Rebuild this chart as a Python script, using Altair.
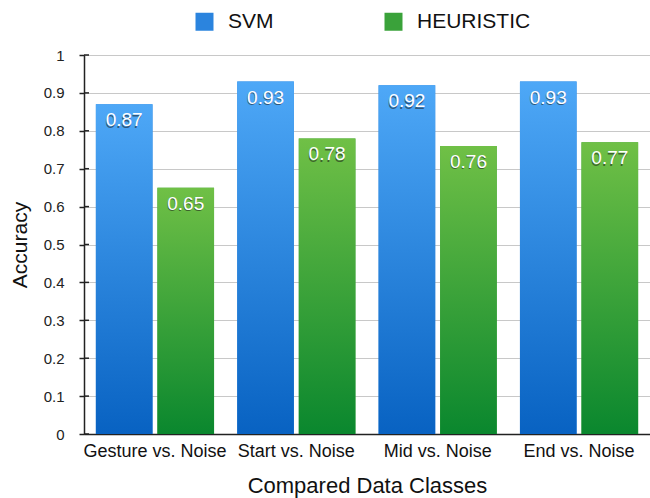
import altair as alt
import pandas as pd

classes = ["Gesture vs. Noise", "Start vs. Noise", "Mid vs. Noise", "End vs. Noise"]
series = ["SVM", "HEURISTIC"]
svm_acc = [0.87, 0.93, 0.92, 0.93]
heuristic_acc = [0.65, 0.78, 0.76, 0.77]
y_ticks = [0, 0.1, 0.2, 0.3, 0.4, 0.5, 0.6, 0.7, 0.8, 0.9, 1]

rows = []
for c, s_val, h_val in zip(classes, svm_acc, heuristic_acc):
    rows.append({"cls": c, "series": "SVM", "acc": s_val})
    rows.append({"cls": c, "series": "HEURISTIC", "acc": h_val})
df = pd.DataFrame(rows)
ticks_df = pd.DataFrame({"acc": y_ticks})

FONT = "Liberation Sans"

x_enc = alt.X(
    "cls:N", sort=classes, title="Compared Data Classes",
    scale=alt.Scale(paddingInner=0.164, paddingOuter=0.084),
    axis=alt.Axis(labelAngle=0, labelFontSize=18, labelPadding=8, labelColor="#111",
                  ticks=False, domainColor="#222", domainWidth=1.5,
                  titleFontSize=22, titleFontWeight="normal", titlePadding=15,
                  titleColor="#111", labelFont=FONT, titleFont=FONT, grid=False),
)
xoff = alt.XOffset("series:N", sort=series,
                   scale=alt.Scale(domain=series, paddingInner=0.08, paddingOuter=0))
y_scale = alt.Scale(domain=[0, 1], nice=False)
# tickCount must not be below the number of explicit values, or Vega thins them
y_axis = alt.Axis(values=y_ticks, tickCount=len(y_ticks) + 1, format="~g",
                  labelFontSize=15, labelColor="#222", labelPadding=15,
                  labelOverlap=False, tickSize=5, tickColor="#222", tickWidth=1.5,
                  domainColor="#222", domainWidth=1.5, gridColor="#c8c8c8", gridWidth=1,
                  titleFontSize=21, titleFontWeight="normal", titlePadding=13,
                  titleColor="#111", labelFont=FONT, titleFont=FONT)
y_enc = alt.Y("acc:Q", scale=y_scale, title="Accuracy", axis=y_axis)

def bar_gradient(top, bottom):
    return alt.Gradient(gradient="linear", x1=0, x2=0, y1=0, y2=1,
                        stops=[alt.GradientStop(color=top, offset=0),
                               alt.GradientStop(color=bottom, offset=1)])

base = alt.Chart(df)

# solid bars carry the legend; gradient bars are painted over them
solid = base.mark_bar().encode(
    x=x_enc, xOffset=xoff, y=y_enc,
    color=alt.Color("series:N", sort=series,
                    scale=alt.Scale(domain=series, range=["#2b84de", "#3aa23a"]),
                    legend=alt.Legend(orient="none", legendX=110, legendY=-44,
                                      direction="horizontal", title=None,
                                      symbolType="square", symbolSize=324,
                                      symbolStrokeWidth=0, labelFontSize=21,
                                      labelFont=FONT, labelColor="#111",
                                      labelOffset=13, columnPadding=109)),
)
svm_bars = base.transform_filter(alt.datum.series == "SVM").mark_bar(
    color=bar_gradient("#4ea8f7", "#0862c2")
).encode(x=x_enc, xOffset=xoff, y=y_enc)
heu_bars = base.transform_filter(alt.datum.series == "HEURISTIC").mark_bar(
    color=bar_gradient("#70c046", "#0a872e")
).encode(x=x_enc, xOffset=xoff, y=y_enc)

# value labels: soft dark shadow under white text
shadow = base.mark_text(font=FONT, fontSize=19, color="#1a1a1a", opacity=0.55,
                        baseline="middle", dy=17.5, dx=-0.5).encode(
    x=x_enc, xOffset=xoff, y=y_enc, text=alt.Text("acc:Q", format=".2f"))
labels = base.mark_text(font=FONT, fontSize=19, color="white",
                        baseline="middle", dy=16).encode(
    x=x_enc, xOffset=xoff, y=y_enc, text=alt.Text("acc:Q", format=".2f"))

# inner halves of the y-axis ticks
inner_ticks = alt.Chart(ticks_df).mark_rule(color="#222", strokeWidth=1.5).encode(
    y=y_enc, x=alt.value(0), x2=alt.value(5))

chart = alt.layer(solid, svm_bars, heu_bars, inner_ticks, shadow, labels).properties(
    width=566, height=379,
    autosize=alt.AutoSizeParams(type="none"),
    padding={"left": 84, "top": 55, "right": 0, "bottom": 64},
).configure_view(stroke=None).configure(background="white")

chart.save("out.html", embed_options={"renderer": "svg", "actions": False})
